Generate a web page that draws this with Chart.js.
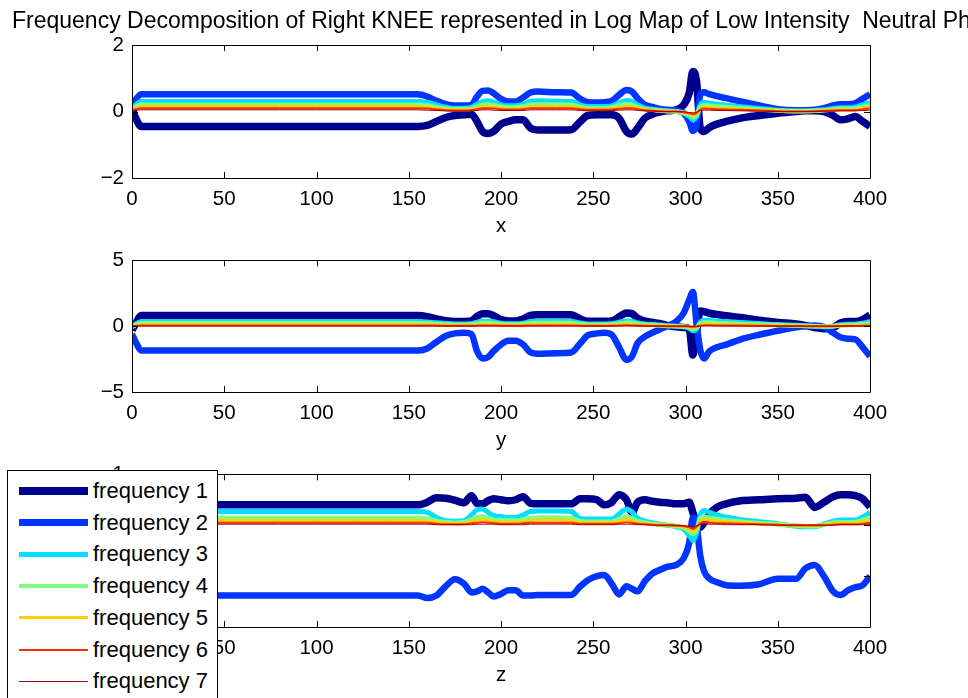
<!DOCTYPE html>
<html>
<head>
<meta charset="utf-8">
<script src="https://cdn.jsdelivr.net/npm/chart.js@4.4.1/dist/chart.umd.min.js"></script>
<style>
  html, body { margin: 0; padding: 0; background: #fff; overflow: hidden; }
  body { width: 968px; height: 698px; position: relative; font-family: "Liberation Sans", Arial, sans-serif; }
  .plot { position: absolute; left: 0; width: 968px; }
  #legend { position: absolute; left: 7px; top: 470px; width: 211px; height: 240px;
            background: #fff; border: 1px solid #000; box-sizing: border-box; }
  #legend .row { position: absolute; left: 0; height: 26px; width: 100%; }
  #legend .sample { position: absolute; left: 11px; width: 69px; }
  #legend .label { position: absolute; left: 85px; top: 0; font-size: 22px; line-height: 26px; color: #000; white-space: nowrap; }
</style>
</head>
<body>
<div class="plot" style="top:0;height:240px"><canvas id="chartX" width="968" height="240"></canvas></div>
<div class="plot" style="top:240px;height:214px"><canvas id="chartY" width="968" height="214"></canvas></div>
<div class="plot" style="top:454px;height:244px"><canvas id="chartZ" width="968" height="244"></canvas></div>
<div id="legend"></div>

<script>
var figureTitle = 'Frequency Decomposition of Right KNEE represented in Log Map of Low Intensity  Neutral Phrase';

var names = ['frequency 1', 'frequency 2', 'frequency 3', 'frequency 4', 'frequency 5', 'frequency 6', 'frequency 7'];
var colors = ['#00008F', '#0034FF', '#00DFFF', '#80FF80', '#FFCF00', '#FF3000', '#A00000'];
var widths = [7.5, 6.5, 5, 4.5, 3, 2, 1];

// sample positions along the frame axis
var xs = [0, 2, 5, 10, 20, 40, 60, 80, 100, 120, 140,
    155, 160, 165, 170, 175, 180, 184, 187, 190, 193, 196, 200,
    204, 208, 212, 216, 220, 230, 238, 243, 247, 252, 256, 260,
    264, 268, 271, 274, 278, 282, 286, 290, 295, 299, 302, 304,
    306, 308, 310, 313, 317, 322, 330, 340, 350, 360,
    365, 370, 375, 380, 384, 388, 392, 396, 400];

// x component
var x1 = [0.1, -0.2, -0.45, -0.45, -0.45, -0.45, -0.45, -0.45, -0.45, -0.45, -0.45,
    -0.45, -0.42, -0.3, -0.18, -0.12, -0.1, -0.08, -0.3, -0.6, -0.66, -0.6, -0.38,
    -0.3, -0.25, -0.25, -0.5, -0.56, -0.56, -0.55, -0.3, -0.12, -0.1, -0.1, -0.1,
    -0.2, -0.6, -0.68, -0.5, -0.2, -0.08, -0.02, 0.02, 0.05, 0.2, 0.55, 1.2,
    0.9, -0.5, -0.6, -0.48, -0.38, -0.3, -0.2, -0.12, -0.05, 0.0,
    0.02, 0.02, 0.0, -0.12, -0.25, -0.22, -0.15, -0.3, -0.45];
var x2 = [0.12, 0.35, 0.52, 0.52, 0.52, 0.52, 0.52, 0.52, 0.52, 0.52, 0.52,
    0.52, 0.45, 0.32, 0.22, 0.18, 0.18, 0.2, 0.45, 0.62, 0.63, 0.55, 0.38,
    0.3, 0.3, 0.42, 0.57, 0.6, 0.58, 0.57, 0.38, 0.28, 0.27, 0.28, 0.32,
    0.5, 0.65, 0.6, 0.4, 0.2, 0.14, 0.08, 0.05, 0.03, -0.05, -0.3, -0.58,
    -0.4, 0.5, 0.58, 0.52, 0.46, 0.4, 0.3, 0.18, 0.07, 0.04,
    0.04, 0.05, 0.1, 0.18, 0.22, 0.22, 0.25, 0.38, 0.52];
var x3 = [0.08, 0.2, 0.3, 0.3, 0.3, 0.3, 0.3, 0.3, 0.3, 0.3, 0.3,
    0.3, 0.27, 0.2, 0.13, 0.1, 0.1, 0.12, 0.22, 0.3, 0.32, 0.28, 0.2,
    0.17, 0.17, 0.22, 0.3, 0.32, 0.31, 0.3, 0.2, 0.15, 0.15, 0.15, 0.17,
    0.26, 0.33, 0.3, 0.2, 0.1, 0.07, 0.04, 0.02, 0.0, -0.05, -0.15, -0.25,
    -0.15, 0.2, 0.28, 0.25, 0.22, 0.19, 0.14, 0.09, 0.04, 0.02,
    0.02, 0.03, 0.05, 0.09, 0.11, 0.11, 0.13, 0.2, 0.27];
var x4 = [0.06, 0.14, 0.2, 0.2, 0.2, 0.2, 0.2, 0.2, 0.2, 0.2, 0.2,
    0.2, 0.18, 0.13, 0.09, 0.07, 0.07, 0.08, 0.15, 0.2, 0.21, 0.19, 0.14,
    0.12, 0.12, 0.15, 0.2, 0.21, 0.21, 0.2, 0.14, 0.1, 0.1, 0.1, 0.12,
    0.18, 0.22, 0.2, 0.14, 0.07, 0.05, 0.03, 0.01, 0.0, -0.04, -0.1, -0.17,
    -0.1, 0.13, 0.19, 0.17, 0.15, 0.13, 0.1, 0.06, 0.03, 0.01,
    0.01, 0.02, 0.04, 0.06, 0.08, 0.08, 0.09, 0.14, 0.19];
var x5 = [0.04, 0.1, 0.14, 0.14, 0.14, 0.14, 0.14, 0.14, 0.14, 0.14, 0.14,
    0.14, 0.13, 0.09, 0.06, 0.05, 0.05, 0.06, 0.1, 0.14, 0.15, 0.13, 0.1,
    0.08, 0.08, 0.1, 0.14, 0.15, 0.15, 0.14, 0.1, 0.07, 0.07, 0.07, 0.08,
    0.12, 0.15, 0.14, 0.1, 0.05, 0.03, 0.02, 0.01, 0.0, -0.03, -0.07, -0.12,
    -0.07, 0.09, 0.13, 0.12, 0.1, 0.09, 0.07, 0.04, 0.02, 0.01,
    0.01, 0.01, 0.03, 0.04, 0.05, 0.05, 0.06, 0.1, 0.13];
var x6 = [0.03, 0.07, 0.1, 0.1, 0.1, 0.1, 0.1, 0.1, 0.1, 0.1, 0.1,
    0.1, 0.09, 0.06, 0.04, 0.03, 0.03, 0.04, 0.07, 0.1, 0.1, 0.09, 0.07,
    0.06, 0.06, 0.07, 0.1, 0.1, 0.1, 0.1, 0.07, 0.05, 0.05, 0.05, 0.06,
    0.08, 0.1, 0.1, 0.07, 0.04, 0.02, 0.01, 0.0, 0.0, -0.02, -0.05, -0.08,
    -0.05, 0.06, 0.09, 0.08, 0.07, 0.06, 0.05, 0.03, 0.01, 0.0,
    0.0, 0.01, 0.02, 0.03, 0.04, 0.04, 0.04, 0.07, 0.09];
var x7 = [0.01, 0.03, 0.05, 0.05, 0.05, 0.05, 0.05, 0.05, 0.05, 0.05, 0.05,
    0.05, 0.04, 0.03, 0.02, 0.01, 0.01, 0.02, 0.03, 0.05, 0.05, 0.04, 0.03,
    0.03, 0.03, 0.03, 0.05, 0.05, 0.05, 0.05, 0.03, 0.02, 0.02, 0.02, 0.03,
    0.04, 0.05, 0.05, 0.03, 0.02, 0.01, 0.0, 0.0, 0.0, -0.01, -0.03, -0.04,
    -0.02, 0.03, 0.04, 0.04, 0.03, 0.03, 0.02, 0.01, 0.0, 0.0,
    0.0, 0.0, 0.01, 0.01, 0.02, 0.02, 0.02, 0.03, 0.04];

// y component
var y1 = [-0.3, 0.2, 0.8, 0.8, 0.8, 0.8, 0.8, 0.8, 0.8, 0.8, 0.8,
    0.8, 0.72, 0.55, 0.42, 0.36, 0.36, 0.4, 0.75, 0.95, 0.95, 0.8, 0.5,
    0.4, 0.4, 0.55, 0.82, 0.87, 0.87, 0.86, 0.55, 0.38, 0.38, 0.38, 0.4,
    0.7, 1.0, 0.95, 0.6, 0.38, 0.3, 0.2, 0.05, -0.05, -0.1, -0.2, -2.2,
    -0.5, 1.15, 1.1, 0.98, 0.88, 0.8, 0.65, 0.45, 0.28, 0.17,
    0.05, -0.1, -0.2, -0.12, 0.25, 0.35, 0.35, 0.5, 0.85];
var y2 = [-0.6, -1.2, -1.85, -1.85, -1.85, -1.85, -1.85, -1.85, -1.85, -1.85, -1.85,
    -1.85, -1.7, -1.2, -0.75, -0.55, -0.5, -0.6, -1.9, -2.45, -2.35, -1.9, -1.4,
    -1.1, -1.1, -1.4, -2.0, -2.1, -2.05, -2.0, -1.3, -0.7, -0.55, -0.5, -0.65,
    -1.6, -2.55, -2.3, -1.3, -0.8, -0.5, -0.25, 0.0, 0.35, 1.0, 2.0, 2.6,
    0.2, -1.8, -2.45, -1.9, -1.6, -1.4, -1.0, -0.65, -0.35, -0.08,
    0.0, 0.05, -0.05, -0.5, -0.85, -0.95, -1.0, -1.6, -2.3];
var y3 = [-0.1, 0.15, 0.35, 0.35, 0.35, 0.35, 0.35, 0.35, 0.35, 0.35, 0.35,
    0.35, 0.32, 0.25, 0.2, 0.17, 0.17, 0.18, 0.3, 0.38, 0.38, 0.33, 0.22,
    0.18, 0.18, 0.23, 0.35, 0.37, 0.37, 0.36, 0.24, 0.17, 0.17, 0.17, 0.18,
    0.3, 0.4, 0.38, 0.25, 0.17, 0.13, 0.09, 0.03, 0.0, -0.05, -0.15, -0.35,
    -0.2, 0.3, 0.45, 0.42, 0.38, 0.34, 0.28, 0.2, 0.12, 0.07,
    0.04, 0.0, -0.03, 0.0, 0.1, 0.14, 0.15, 0.22, 0.35];
var y4 = [-0.05, 0.1, 0.22, 0.22, 0.22, 0.22, 0.22, 0.22, 0.22, 0.22, 0.22,
    0.22, 0.2, 0.16, 0.13, 0.11, 0.11, 0.12, 0.19, 0.24, 0.24, 0.21, 0.14,
    0.12, 0.12, 0.15, 0.22, 0.23, 0.23, 0.23, 0.15, 0.11, 0.11, 0.11, 0.12,
    0.19, 0.25, 0.24, 0.16, 0.11, 0.08, 0.06, 0.02, 0.0, -0.03, -0.1, -0.22,
    -0.12, 0.19, 0.28, 0.26, 0.24, 0.21, 0.17, 0.12, 0.08, 0.04,
    0.02, 0.0, -0.02, 0.0, 0.06, 0.09, 0.1, 0.14, 0.22];
var y5 = [-0.03, 0.05, 0.12, 0.12, 0.12, 0.12, 0.12, 0.12, 0.12, 0.12, 0.12,
    0.12, 0.11, 0.09, 0.07, 0.06, 0.06, 0.07, 0.1, 0.13, 0.13, 0.11, 0.08,
    0.07, 0.07, 0.08, 0.12, 0.13, 0.13, 0.12, 0.08, 0.06, 0.06, 0.06, 0.07,
    0.1, 0.14, 0.13, 0.09, 0.06, 0.04, 0.03, 0.01, 0.0, -0.02, -0.06, -0.12,
    -0.06, 0.1, 0.15, 0.14, 0.13, 0.12, 0.09, 0.07, 0.04, 0.02,
    0.01, 0.0, -0.01, 0.0, 0.03, 0.05, 0.05, 0.08, 0.12];
var y6 = [-0.01, 0.02, 0.05, 0.05, 0.05, 0.05, 0.05, 0.05, 0.05, 0.05, 0.05,
    0.05, 0.05, 0.04, 0.03, 0.03, 0.03, 0.03, 0.04, 0.05, 0.05, 0.05, 0.03,
    0.03, 0.03, 0.03, 0.05, 0.05, 0.05, 0.05, 0.03, 0.03, 0.03, 0.03, 0.03,
    0.04, 0.06, 0.05, 0.04, 0.03, 0.02, 0.01, 0.0, 0.0, -0.01, -0.03, -0.05,
    -0.03, 0.04, 0.06, 0.06, 0.05, 0.05, 0.04, 0.03, 0.02, 0.01,
    0.0, 0.0, 0.0, 0.0, 0.01, 0.02, 0.02, 0.03, 0.05];
var y7 = [0.0, 0.01, 0.01, 0.01, 0.01, 0.01, 0.01, 0.01, 0.01, 0.01, 0.01,
    0.01, 0.01, 0.01, 0.01, 0.01, 0.01, 0.01, 0.01, 0.01, 0.01, 0.01, 0.01,
    0.01, 0.01, 0.01, 0.01, 0.01, 0.01, 0.01, 0.01, 0.01, 0.01, 0.01, 0.01,
    0.01, 0.02, 0.02, 0.01, 0.01, 0.01, 0.0, 0.0, 0.0, 0.0, -0.01, -0.02,
    -0.01, 0.01, 0.02, 0.02, 0.02, 0.01, 0.01, 0.01, 0.0, 0.0,
    0.0, 0.0, 0.0, 0.0, 0.0, 0.01, 0.01, 0.01, 0.02];

// z component
var z1 = [0.35, 0.4, 0.4, 0.4, 0.4, 0.4, 0.4, 0.4, 0.4, 0.4, 0.4,
    0.4, 0.45, 0.54, 0.53, 0.49, 0.44, 0.58, 0.43, 0.42, 0.48, 0.52, 0.5,
    0.48, 0.5, 0.56, 0.43, 0.42, 0.42, 0.42, 0.52, 0.52, 0.5, 0.4, 0.45,
    0.6, 0.5, 0.25, 0.45, 0.5, 0.47, 0.45, 0.44, 0.42, 0.42, 0.45, 0.25,
    0.05, -0.04, 0.05, 0.22, 0.35, 0.42, 0.48, 0.5, 0.52, 0.53,
    0.55, 0.35, 0.45, 0.56, 0.6, 0.6, 0.58, 0.52, 0.36];
var z2 = [-1.38, -1.38, -1.38, -1.38, -1.38, -1.38, -1.38, -1.38, -1.38, -1.38, -1.38,
    -1.38, -1.43, -1.38, -1.2, -1.06, -1.15, -1.32, -1.3, -1.25, -1.32, -1.4, -1.35,
    -1.28, -1.28, -1.38, -1.38, -1.37, -1.37, -1.37, -1.2, -1.08, -1.0, -0.98, -1.15,
    -1.36, -1.2, -1.25, -1.3, -1.1, -0.95, -0.88, -0.82, -0.78, -0.65, -0.35, 0.15,
    0.0, -0.6, -0.9, -1.05, -1.12, -1.18, -1.19, -1.16, -1.05, -1.05,
    -0.85, -0.78, -1.0, -1.3, -1.37, -1.28, -1.22, -1.18, -1.0];
var z3 = [0.25, 0.27, 0.27, 0.27, 0.27, 0.27, 0.27, 0.27, 0.27, 0.27, 0.27,
    0.27, 0.25, 0.15, 0.09, 0.08, 0.09, 0.2, 0.3, 0.32, 0.25, 0.19, 0.17,
    0.15, 0.15, 0.2, 0.27, 0.28, 0.28, 0.27, 0.13, 0.12, 0.12, 0.12, 0.12,
    0.22, 0.32, 0.26, 0.14, 0.08, 0.05, 0.02, 0.0, -0.03, -0.08, -0.2, -0.3,
    -0.15, 0.2, 0.29, 0.25, 0.2, 0.16, 0.11, 0.07, 0.03, -0.02,
    -0.03, -0.03, 0.02, 0.08, 0.1, 0.1, 0.1, 0.16, 0.25];
var z4 = [0.12, 0.14, 0.14, 0.14, 0.14, 0.14, 0.14, 0.14, 0.14, 0.14, 0.14,
    0.14, 0.13, 0.09, 0.06, 0.05, 0.06, 0.11, 0.16, 0.17, 0.14, 0.11, 0.1,
    0.09, 0.09, 0.11, 0.14, 0.15, 0.15, 0.14, 0.08, 0.07, 0.07, 0.07, 0.07,
    0.12, 0.17, 0.14, 0.08, 0.05, 0.03, 0.01, 0.0, -0.02, -0.05, -0.12, -0.18,
    -0.09, 0.12, 0.17, 0.15, 0.12, 0.1, 0.07, 0.04, 0.02, -0.01,
    -0.02, -0.02, 0.01, 0.05, 0.06, 0.06, 0.06, 0.1, 0.15];
var z5 = [0.08, 0.09, 0.09, 0.09, 0.09, 0.09, 0.09, 0.09, 0.09, 0.09, 0.09,
    0.09, 0.08, 0.06, 0.04, 0.03, 0.04, 0.07, 0.1, 0.11, 0.09, 0.07, 0.06,
    0.06, 0.06, 0.07, 0.09, 0.1, 0.1, 0.09, 0.05, 0.05, 0.05, 0.05, 0.05,
    0.08, 0.11, 0.09, 0.05, 0.03, 0.02, 0.01, 0.0, -0.01, -0.03, -0.08, -0.12,
    -0.06, 0.08, 0.11, 0.1, 0.08, 0.07, 0.05, 0.03, 0.01, 0.0,
    -0.01, -0.01, 0.01, 0.03, 0.04, 0.04, 0.04, 0.06, 0.1];
var z6 = [0.04, 0.05, 0.05, 0.05, 0.05, 0.05, 0.05, 0.05, 0.05, 0.05, 0.05,
    0.05, 0.05, 0.03, 0.02, 0.02, 0.02, 0.04, 0.05, 0.06, 0.05, 0.04, 0.03,
    0.03, 0.03, 0.04, 0.05, 0.05, 0.05, 0.05, 0.03, 0.03, 0.03, 0.03, 0.03,
    0.04, 0.06, 0.05, 0.03, 0.02, 0.01, 0.0, 0.0, -0.01, -0.02, -0.04, -0.07,
    -0.03, 0.04, 0.06, 0.05, 0.04, 0.04, 0.03, 0.02, 0.01, 0.0,
    0.0, 0.0, 0.0, 0.01, 0.02, 0.02, 0.02, 0.03, 0.05];
var z7 = [0.01, 0.02, 0.02, 0.02, 0.02, 0.02, 0.02, 0.02, 0.02, 0.02, 0.02,
    0.02, 0.02, 0.01, 0.01, 0.01, 0.01, 0.01, 0.02, 0.02, 0.02, 0.02, 0.01,
    0.01, 0.01, 0.01, 0.02, 0.02, 0.02, 0.02, 0.01, 0.01, 0.01, 0.01, 0.01,
    0.02, 0.02, 0.02, 0.01, 0.01, 0.0, 0.0, 0.0, 0.0, -0.01, -0.02, -0.03,
    -0.01, 0.01, 0.02, 0.02, 0.02, 0.01, 0.01, 0.01, 0.0, 0.0,
    0.0, 0.0, 0.0, 0.0, 0.01, 0.01, 0.01, 0.01, 0.02];

Chart.defaults.font.family = '"Liberation Sans", Arial, Helvetica, sans-serif';
Chart.defaults.color = '#000';

// figure title along the top edge; it runs past the right border
var figTitle = {
    id: 'figTitle',
    afterDraw: function (chart, args, opts) {
        if (!opts.text) return;
        var ctx = chart.ctx;
        ctx.save();
        ctx.font = '23px "Liberation Sans", Arial, sans-serif';
        ctx.fillStyle = '#000';
        ctx.textAlign = 'left';
        ctx.textBaseline = 'alphabetic';
        ctx.fillText(opts.text, 12, 28);
        ctx.restore();
    }
};

// closed axes box with inward tick marks on all four sides
var axesBox = {
    id: 'axesBox',
    afterDraw: function (chart) {
        var ctx = chart.ctx, a = chart.chartArea;
        var sx = chart.scales.x, sy = chart.scales.y;
        var len = 6;
        ctx.save();
        ctx.strokeStyle = '#000';
        ctx.lineWidth = 1;
        ctx.beginPath();
        ctx.rect(Math.round(a.left) + 0.5, Math.round(a.top) + 0.5,
            Math.round(a.right) - Math.round(a.left), Math.round(a.bottom) - Math.round(a.top));
        sx.ticks.forEach(function (t) {
            var px = Math.round(sx.getPixelForValue(t.value)) + 0.5;
            ctx.moveTo(px, a.bottom); ctx.lineTo(px, a.bottom - len);
            ctx.moveTo(px, a.top); ctx.lineTo(px, a.top + len);
        });
        sy.ticks.forEach(function (t) {
            var py = Math.round(sy.getPixelForValue(t.value)) + 0.5;
            ctx.moveTo(a.left, py); ctx.lineTo(a.left + len, py);
            ctx.moveTo(a.right, py); ctx.lineTo(a.right - len, py);
        });
        ctx.stroke();
        ctx.restore();
    }
};

var points = function (ys) {
    return xs.map(function (x, i) { return {x: x, y: ys[i]}; });
};

var minusLabel = function (value) {
    return value < 0 ? '\u2212' + Math.abs(value) : String(value);
};

var makeChart = function (id, seriesList, axisName, yMin, yMax, yStep, pad, title) {
    var datasets = seriesList.map(function (ys, i) {
        return {
            label: names[i],
            data: points(ys),
            borderColor: colors[i],
            backgroundColor: colors[i],
            borderWidth: widths[i],
            pointRadius: 0,
            cubicInterpolationMode: 'monotone',
            fill: false,
            clip: 0,
            order: seriesList.length - i
        };
    });

    return new Chart(document.getElementById(id).getContext('2d'), {
        type: 'line',
        data: {datasets: datasets},
        options: {
            responsive: false,
            animation: false,
            events: [],
            layout: {padding: {top: pad.top, bottom: pad.bottom, left: 72, right: 98}},
            plugins: {
                legend: {display: false},
                tooltip: {enabled: false},
                figTitle: {text: title || ''}
            },
            scales: {
                x: {
                    type: 'linear',
                    min: 0,
                    max: 400,
                    grid: {display: false, drawTicks: false},
                    border: {display: false},
                    ticks: {stepSize: 50, padding: 9, font: {size: 20.5}, color: '#000'},
                    title: {display: true, text: axisName, font: {size: 20.5}, color: '#000', padding: {top: 0, bottom: 1}},
                    afterFit: function (scale) { scale.height = 62; }
                },
                y: {
                    min: yMin,
                    max: yMax,
                    grid: {display: false, drawTicks: false},
                    border: {display: false},
                    ticks: {stepSize: yStep, padding: 8, font: {size: 20.5}, color: '#000', callback: minusLabel},
                    afterFit: function (scale) { scale.width = 60; }
                }
            }
        },
        plugins: [axesBox, figTitle]
    });
};

makeChart('chartX', [x1, x2, x3, x4, x5, x6, x7], 'x', -2, 2, 2, {top: 45, bottom: 0}, figureTitle);
makeChart('chartY', [y1, y2, y3, y4, y5, y6, y7], 'y', -5, 5, 5, {top: 19, bottom: 0});
makeChart('chartZ', [z1, z2, z3, z4, z5, z6, z7], 'z', -2, 1, 1, {top: 19, bottom: 9});

// legend box laid over the lower plot
var legendBox = document.getElementById('legend');
names.forEach(function (name, i) {
    var row = document.createElement('div');
    row.className = 'row';
    row.style.top = (7 + i * 31.7) + 'px';
    var sample = document.createElement('div');
    sample.className = 'sample';
    sample.style.height = widths[i] + 'px';
    sample.style.top = (13 - widths[i] / 2) + 'px';
    sample.style.background = colors[i];
    var label = document.createElement('span');
    label.className = 'label';
    label.textContent = name;
    row.appendChild(sample);
    row.appendChild(label);
    legendBox.appendChild(row);
});
</script>
</body>
</html>
